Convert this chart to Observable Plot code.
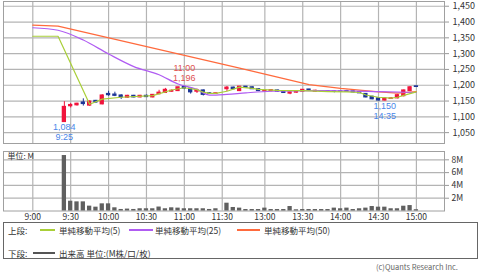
<!DOCTYPE html>
<html><head><meta charset="utf-8">
<script src="https://cdn.jsdelivr.net/npm/d3@7"></script>
<script src="https://cdn.jsdelivr.net/npm/@observablehq/plot@0.6"></script>
<style>
body{margin:0;background:#fff;}
#wrap{position:relative;width:480px;height:272px;overflow:hidden;background:#fff;font-family:"Noto Sans CJK JP",sans-serif;}
#topc{position:absolute;left:0;top:0;}
#vol{position:absolute;left:0;top:146px;}
#legend{position:absolute;left:3px;top:222px;width:475px;height:37px;border:1px solid #666;box-sizing:border-box;font-size:8.5px;color:#333;background:#fff;}
.lt{position:absolute;white-space:nowrap;line-height:1;}
.ln{position:absolute;height:2px;}
#copy{position:absolute;left:376px;top:263px;font-family:"Noto Sans CJK JP",sans-serif;font-size:7.5px;color:#666;line-height:1;white-space:nowrap;}
</style></head>
<body><div id="wrap">
<div id="topc"></div>
<div id="vol"></div>
<div id="legend">
  <span class="lt" style="left:4px;top:3px">上段:</span>
  <span class="ln" style="left:36px;top:6px;width:15px;background:#a9cf38"></span>
  <span class="lt" style="left:55px;top:3px">単純移動平均(5)</span>
  <span class="ln" style="left:125px;top:6px;width:24px;background:#b05cf2"></span>
  <span class="lt" style="left:151px;top:3px">単純移動平均(25)</span>
  <span class="ln" style="left:233px;top:6px;width:23px;background:#ff6a3d"></span>
  <span class="lt" style="left:260px;top:3px">単純移動平均(50)</span>
  <span class="lt" style="left:4px;top:26px">下段:</span>
  <span class="ln" style="left:29px;top:29px;width:22px;background:#555"></span>
  <span class="lt" style="left:55px;top:26px">出来高 単位:(M株/口/枚)</span>
</div>
<div id="copy">(c)Quants Research Inc.</div>
</div>
<script>
const times = ["9:25","9:30","9:35","9:40","9:45","9:50","9:55","10:00","10:05","10:10","10:15","10:20","10:25","10:30","10:35","10:40","10:45","10:50","10:55","11:00","11:05","11:10","11:15","11:20","11:25",
"12:30","12:35","12:40","12:45","12:50","12:55","13:00","13:05","13:10","13:15","13:20","13:25","13:30","13:35","13:40","13:45","13:50","13:55","14:00","14:05","14:10","14:15","14:20","14:25","14:30","14:35","14:40","14:45","14:50","14:55","15:00"];
const opens  = [1084,1134,1137,1145,1136,1150,1140,1172,1170,1167,1161,1166,1162,1166,1162,1172,1176,1180,1182,1194,1189,1180,1183,1174,1173,
1188,1192,1182,1195,1193,1187,1181,1182,1183,1180,1174,1177,1180,1186,1180,1181,1181,1180,1180,1181,1180,1178,1172,1163,1158,1152,1157,1159,1166,1182,1196];
const highs  = [1148,1142,1143,1157,1150,1152,1170,1181,1178,1170,1168,1168,1168,1169,1170,1184,1190,1185,1194,1196,1191,1188,1185,1176,1175,
1196,1194,1196,1196,1195,1188,1184,1185,1184,1182,1178,1181,1186,1187,1184,1183,1182,1182,1181,1184,1182,1180,1173,1165,1160,1160,1161,1170,1185,1196,1196];
const lows   = [1084,1128,1134,1134,1133,1143,1138,1165,1164,1155,1159,1160,1160,1161,1160,1170,1174,1178,1180,1186,1172,1174,1166,1172,1171,
1180,1186,1180,1190,1187,1180,1179,1179,1178,1174,1170,1175,1179,1181,1178,1179,1178,1176,1178,1178,1176,1174,1160,1154,1151,1150,1155,1157,1163,1180,1194];
const closes = [1131,1137,1141,1141,1148,1146,1167,1169,1167,1162,1166,1162,1166,1163,1169,1176,1185,1182,1193,1190,1178,1184,1170,1174,1174,
1192,1188,1195,1192,1188,1182,1183,1184,1180,1176,1177,1179,1185,1183,1182,1181,1180,1180,1180,1180,1178,1175,1162,1156,1152,1158,1158,1168,1183,1193,1195];
const volumes = [8.67,1.53,1.43,1.43,0.76,0.6,1.12,1.12,0.5,0.24,0.3,0.24,0.35,0.35,0.35,0.62,0.35,0.5,0.45,0.35,0.35,0.35,0.35,0.24,0.35,
1.22,0.55,0.45,0.23,0.23,0.23,0.45,0.23,0.23,0.23,0.7,0.19,0.23,0.23,0.23,0.23,0.23,0.45,0.35,0.45,0.23,0.35,0.45,0.7,0.6,0.6,0.35,0.35,0.75,0.85,0.2];

const ma5Times  = ["9:00","9:20","9:45","9:55","10:10","10:35","10:50","11:00","11:10","11:15","11:20","11:25","12:30","12:40","12:50","12:55","13:10","13:30","13:50","14:05","14:15","14:20","14:30","14:40","14:45","14:50","15:00"];
const ma5Values = [1355,1355,1140,1156,1162,1167,1185,1192,1186,1178,1174,1174,1181,1194,1190,1187,1184,1183,1180,1179,1177,1169,1162,1159,1162,1168,1179];
const ma25Times  = ["9:00","9:20","9:40","10:00","10:20","10:40","10:55","11:10","11:20","11:25","12:30","12:45","13:05","13:45","14:30","15:00"];
const ma25Values = [1382,1374,1343,1299,1259,1233,1204,1187,1169,1169,1171,1176,1181,1183,1180,1177];
const ma50Times  = ["9:00","9:20","12:40","13:35","14:00","14:30","14:45","15:00"];
const ma50Values = [1390,1387,1254,1202,1190,1179,1175,1180];

const tickTimes = ["9:00","9:30","10:00","10:30","11:00","11:30","13:00","13:30","14:00","14:30","15:00"];
const priceTicks = [1050,1100,1150,1200,1250,1300,1350,1400,1450];
const volTicks = [2,4,6,8];

const annotTimes  = ["11:00","9:25","14:35"];
const annotPrices = [1196,1084,1150];
const annotSides  = ["high","low","low"];

function slot(t){const [h,m]=t.split(":").map(Number);const mins=h*60+m;return mins<=720?(mins-540)/5:30.75+(mins-750)/5;}

const UP="#f0143c", DOWN="#1c3596";
const candles = times.map((t,i)=>({t,s:slot(t),o:opens[i],h:highs[i],l:lows[i],c:closes[i],v:volumes[i]}));
const col = d => d.c>d.o?UP:DOWN;
const ma = (ts,vs)=>ts.map((t,i)=>({s:slot(t),v:vs[i]}));
const tickSlots = tickTimes.map(slot);
const tickLabel = new Map(tickTimes.map(t=>[slot(t),t]));
const annots = annotTimes.map((t,i)=>({s:slot(t),p:annotPrices[i],side:annotSides[i],t}));
const fmt = d3.format(",");
const xDomain=[-4.64,65.2];
const font='"Noto Sans CJK JP", sans-serif';
const afont='"Liberation Sans", sans-serif';
const GRID="#b4b4b4";

const topChart = Plot.plot({
  width:480,height:144,marginLeft:3,marginRight:36,marginTop:1,marginBottom:1,
  style:{fontFamily:font,fontSize:"9px",background:"transparent",color:"#333"},
  x:{domain:xDomain,axis:null},
  y:{domain:[1015.6,1465]},
  color:{type:"identity"},
  marks:[
    Plot.gridX(tickSlots,{stroke:GRID,strokeOpacity:1,strokeWidth:1.2}),
    Plot.gridY(priceTicks,{stroke:GRID,strokeOpacity:1,strokeWidth:1.2}),
    Plot.frame({stroke:"#a0a0a0"}),
    Plot.axisY(priceTicks,{anchor:"right",tickSize:4,tickPadding:4,tickFormat:fmt,stroke:"#999",label:null}),
    Plot.ruleX(candles,{x:"s",y1:"l",y2:"h",stroke:col,strokeWidth:1}),
    Plot.rect(candles,{x1:d=>d.s-0.34,x2:d=>d.s+0.34,y1:d=>Math.min(d.o,d.c),y2:d=>Math.max(d.o,d.c),fill:col,insetTop:-0.7,insetBottom:-0.7}),
    Plot.line(ma(ma50Times,ma50Values),{x:"s",y:"v",stroke:"#ff6a3d",strokeWidth:1.2}),
    Plot.line(ma(ma25Times,ma25Values),{x:"s",y:"v",stroke:"#b05cf2",strokeWidth:1.2,curve:"monotone-x"}),
    Plot.line(ma(ma5Times,ma5Values),{x:"s",y:"v",stroke:"#a9cf38",strokeWidth:1.2}),
    Plot.text(annots.filter(d=>d.side==="high"),{x:"s",y:"p",text:d=>d.t+"\n"+fmt(d.p),lineAnchor:"bottom",lineHeight:1.12,dy:-5,fill:"#e05050",fontSize:9,fontFamily:afont}),
    Plot.text(annots.filter(d=>d.side==="low"),{x:"s",y:"p",text:d=>fmt(d.p)+"\n"+d.t,lineAnchor:"top",lineHeight:1.12,dy:0.5,fill:"#4a86e8",fontSize:9,fontFamily:afont})
  ]
});
document.getElementById("topc").appendChild(topChart);

const volChart = Plot.plot({
  width:480,height:76,marginLeft:3,marginRight:36,marginTop:5,marginBottom:11.5,
  style:{fontFamily:font,fontSize:"8.5px",background:"transparent",color:"#333"},
  x:{domain:xDomain,label:null},
  y:{domain:[0,9.3],label:null},
  marks:[
    Plot.gridX(tickSlots,{stroke:GRID,strokeOpacity:1,strokeWidth:1.2}),
    Plot.gridY(volTicks,{stroke:GRID,strokeOpacity:1,strokeWidth:1.2}),
    Plot.frame({stroke:"#a0a0a0"}),
    Plot.rectY(candles,{x1:d=>d.s-0.34,x2:d=>d.s+0.34,y:"v",fill:"#606060"}),
    Plot.axisY(volTicks,{anchor:"right",tickSize:4,tickPadding:3,tickFormat:d=>d+"M",stroke:"#999",label:null}),
    Plot.axisX(tickSlots,{anchor:"bottom",tickSize:0,tickPadding:3,tickFormat:s=>tickLabel.get(s),label:null}),
    Plot.text(["単位: M"],{text:d=>d,frameAnchor:"top-left",dx:4,dy:2,textAnchor:"start",lineAnchor:"top",fontSize:8,fill:"#333"})
  ]
});
document.getElementById("vol").appendChild(volChart);
</script>
</body></html>
